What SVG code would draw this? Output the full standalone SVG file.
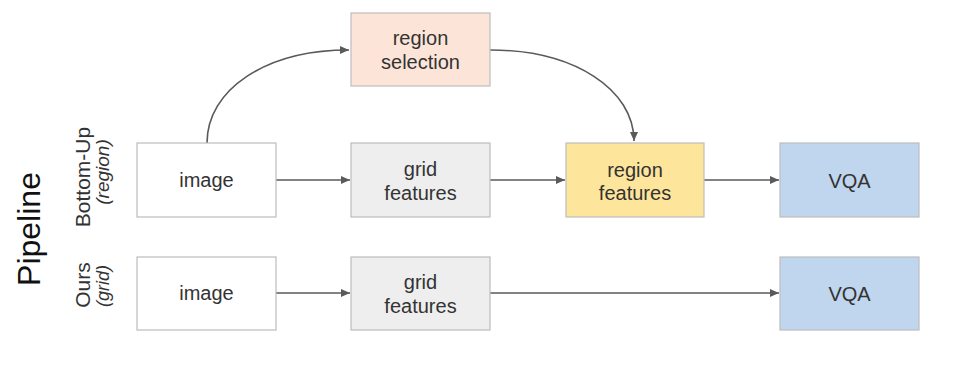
<svg xmlns="http://www.w3.org/2000/svg" width="954" height="368" viewBox="0 0 954 368">
<defs>
<style>
.box{stroke:#bdbdbd;stroke-width:1.2}
.t{font-family:"Liberation Sans",Arial,sans-serif;font-size:20px;fill:#333;text-anchor:middle}
.lab{font-family:"Liberation Sans",Arial,sans-serif;fill:#333;text-anchor:middle}
.c{fill:none;stroke:#5a5a5a;stroke-width:1.6}
</style>
<marker id="ah" markerWidth="10" markerHeight="8" refX="9" refY="4" orient="auto" markerUnits="userSpaceOnUse">
<path d="M0,0 L9,4 L0,8 Z" fill="#5a5a5a"/>
</marker>
</defs>
<rect width="954" height="368" fill="#ffffff"/>
<g id="labels">
<text class="lab" font-size="32" transform="translate(40,229) rotate(-90)" style="fill:#111">Pipeline</text>
<text class="lab" font-size="21" transform="translate(90,177) rotate(-90)">Bottom-Up</text>
<text class="lab" font-size="19" font-style="italic" transform="translate(109,172) rotate(-90)">(region)</text>
<text class="lab" font-size="21" transform="translate(90,285) rotate(-90)">Ours</text>
<text class="lab" font-size="18" font-style="italic" transform="translate(109,286) rotate(-90)">(grid)</text>
</g>
<g id="connectors">
<path class="c" d="M207,143 C207,90 265,50 349,50" marker-end="url(#ah)"/>
<path class="c" d="M490,50 C575,50 634,90 634,141" marker-end="url(#ah)"/>
<line class="c" x1="276" y1="180" x2="350" y2="180" marker-end="url(#ah)"/>
<line class="c" x1="490" y1="180" x2="565" y2="180" marker-end="url(#ah)"/>
<line class="c" x1="704" y1="180" x2="779" y2="180" marker-end="url(#ah)"/>
<line class="c" x1="276" y1="293" x2="350" y2="293" marker-end="url(#ah)"/>
<line class="c" x1="490" y1="293" x2="779" y2="293" marker-end="url(#ah)"/>
</g>
<g id="region-selection">
<rect class="box" x="351" y="13" width="139" height="73" fill="#fce5d8"/>
<text class="t" x="420.5" y="45">region</text>
<text class="t" x="420.5" y="69">selection</text>
</g>
<g id="image-1">
<rect class="box" x="137" y="143" width="139" height="74" fill="#ffffff"/>
<text class="t" x="206.5" y="187">image</text>
</g>
<g id="grid-features-1">
<rect class="box" x="351" y="143" width="139" height="74" fill="#eeeeee"/>
<text class="t" x="420.5" y="176">grid</text>
<text class="t" x="420.5" y="200">features</text>
</g>
<g id="region-features">
<rect class="box" x="566" y="143" width="138" height="74" fill="#fee59c"/>
<text class="t" x="635" y="177">region</text>
<text class="t" x="635" y="200">features</text>
</g>
<g id="vqa-1">
<rect class="box" x="780" y="143" width="139" height="74" fill="#bfd6ee"/>
<text class="t" x="849.5" y="188">VQA</text>
</g>
<g id="image-2">
<rect class="box" x="137" y="257" width="139" height="73" fill="#ffffff"/>
<text class="t" x="206.5" y="300">image</text>
</g>
<g id="grid-features-2">
<rect class="box" x="351" y="257" width="139" height="73" fill="#eeeeee"/>
<text class="t" x="420.5" y="289">grid</text>
<text class="t" x="420.5" y="313">features</text>
</g>
<g id="vqa-2">
<rect class="box" x="780" y="257" width="139" height="73" fill="#bfd6ee"/>
<text class="t" x="849.5" y="301">VQA</text>
</g>
</svg>
